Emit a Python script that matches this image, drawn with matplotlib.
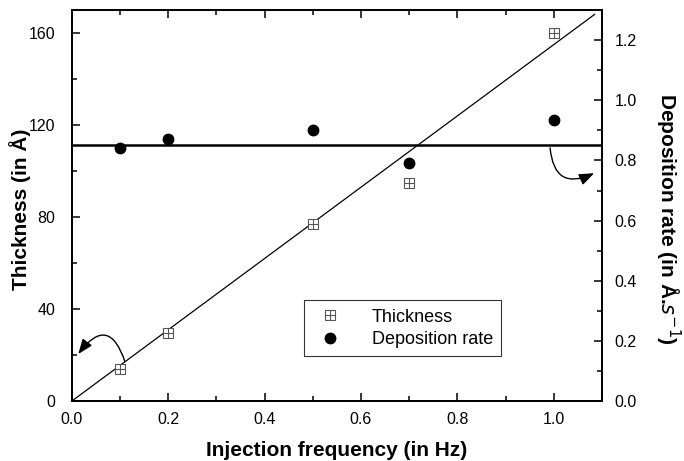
import matplotlib.pyplot as plt
from matplotlib.patches import FancyArrowPatch
from matplotlib.ticker import MultipleLocator

plt.rcParams["font.family"] = ["Liberation Sans", "DejaVu Sans"]
TICK_FONT = ["Liberation Sans Narrow", "Liberation Sans", "DejaVu Sans"]

freq = [0.1, 0.2, 0.5, 0.7, 1.0]
thickness = [14, 29.6, 77, 95, 160]
dep_rate = [0.84, 0.873, 0.90, 0.793, 0.935]

fit_slope = 155        # linear fit of thickness vs frequency
fit_xmax = 1.085
mean_rate = 0.853      # horizontal line on deposition rate axis

fig = plt.figure(figsize=(6.84, 4.61), dpi=100)
ax = fig.add_axes([0.105, 0.130, 0.775, 0.848])
ax2 = ax.twinx()

# thickness: square with cross
ax.plot(freq, thickness, "s", ms=6.5, mfc="white", mec="#555555", mew=0.8, ls="none", zorder=3)
ax.plot(freq, thickness, "+", ms=6.5, color="#555555", mew=0.8, ls="none", zorder=4)
ax.plot([0, fit_xmax], [0, fit_slope * fit_xmax], color="black", lw=0.9, zorder=2)

ax2.plot(freq, dep_rate, "o", ms=7.5, color="black", ls="none")
ax2.axhline(mean_rate, color="black", lw=1.8)

ax.set_xlim(0, 1.1)
ax.set_ylim(0, 170)
ax2.set_ylim(0, 1.3)

ax.xaxis.set_major_locator(MultipleLocator(0.2))
ax.xaxis.set_minor_locator(MultipleLocator(0.1))
ax.yaxis.set_major_locator(MultipleLocator(40))
ax.yaxis.set_minor_locator(MultipleLocator(20))
ax2.yaxis.set_major_locator(MultipleLocator(0.2))
ax2.yaxis.set_minor_locator(MultipleLocator(0.1))

ax.tick_params(which="both", direction="in", top=True, labelsize=11.5, width=1.1,
               labelfontfamily=TICK_FONT)
ax.tick_params(which="major", length=6)
ax.tick_params(which="minor", length=3.5)
ax.tick_params(axis="x", pad=8)
ax.tick_params(axis="y", pad=12)
ax2.tick_params(which="both", direction="in", labelsize=11.5, width=1.1, pad=9,
                labelfontfamily=TICK_FONT)
ax2.tick_params(which="major", length=6)
ax2.tick_params(which="minor", length=3.5)
ax.xaxis.set_major_formatter(plt.FuncFormatter(lambda v, p: f"{v:.1f}"))
ax2.yaxis.set_major_formatter(plt.FuncFormatter(lambda v, p: f"{v:.1f}"))

for a in (ax, ax2):
    for s in a.spines.values():
        s.set_linewidth(1.3)

ax.set_xlabel("Injection frequency (in Hz)", fontsize=15, fontweight="bold", labelpad=10)
ax.set_ylabel("Thickness (in Å)", fontsize=15, fontweight="bold", va="center")
ax.yaxis.set_label_coords(-0.098, 0.49)
ax2.set_ylabel(r"Deposition rate (in Å.$s^{-1}$)", fontsize=15, fontweight="bold",
               rotation=270, va="center")
ax2.yaxis.set_label_coords(1.123, 0.465)

# curved arrows pointing to the relevant axis
astyle = "-|>,head_length=0.9,head_width=0.35"
arr1 = FancyArrowPatch((0.112, 16), (0.01, 19.5), connectionstyle="arc3,rad=1.0",
                       arrowstyle=astyle, mutation_scale=10, color="black", lw=1.0)
ax.add_patch(arr1)
arr2 = FancyArrowPatch((0.992, 111.3), (1.089, 99.6), connectionstyle="arc3,rad=0.75",
                       arrowstyle=astyle, mutation_scale=10, color="black", lw=1.0)
ax.add_patch(arr2)

# legend
h1 = (ax.lines[0], ax.lines[1])
h2 = ax2.lines[0]
leg = ax2.legend([h1, h2], ["Thickness", "Deposition rate"], loc="lower left",
                 bbox_to_anchor=(0.438, 0.115), fontsize=13, frameon=True,
                 fancybox=False, edgecolor="black", borderpad=0.45, handletextpad=1.3,
                 borderaxespad=0, labelspacing=0.3)
leg.get_frame().set_linewidth(0.8)

fig.savefig("out.png", dpi=100)
